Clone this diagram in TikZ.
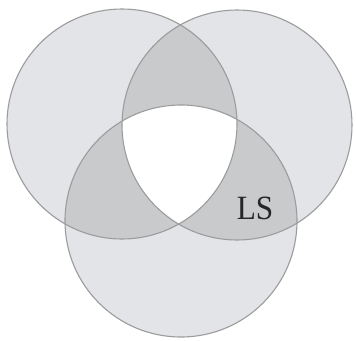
\documentclass[tikz,border=0pt]{standalone}
\usepackage{fontspec}
\setmainfont{Liberation Serif}
\definecolor{single}{HTML}{E2E4E7}
\definecolor{pair}{HTML}{C9CACC}
\definecolor{edge}{HTML}{9C9C9C}
\begin{document}
\begin{tikzpicture}[x=1pt,y=-1pt,
  outline/.style={draw=edge,line width=1.1pt}]
\useasboundingbox (0,0) rectangle (356,340);
\fill[white] (0,0) rectangle (356,340);
\def\cA{(122,124) circle[radius=115]}
\def\cB{(237,125) circle[radius=115]}
\def\cC{(181,221) circle[radius=116]}
\fill[single] \cA; \fill[single] \cB; \fill[single] \cC;
\begin{scope}\clip \cA; \fill[pair] \cB; \fill[pair] \cC;\end{scope}
\begin{scope}\clip \cB; \fill[pair] \cC;\end{scope}
\begin{scope}\clip \cA; \clip \cB; \fill[white] \cC;\end{scope}
\draw[outline] \cA; \draw[outline] \cB; \draw[outline] \cC;
\node[font=\fontsize{34}{34}\selectfont, text=black!85, xscale=0.92] (ls) at (255,208) {LS};
\end{tikzpicture}
\end{document}
